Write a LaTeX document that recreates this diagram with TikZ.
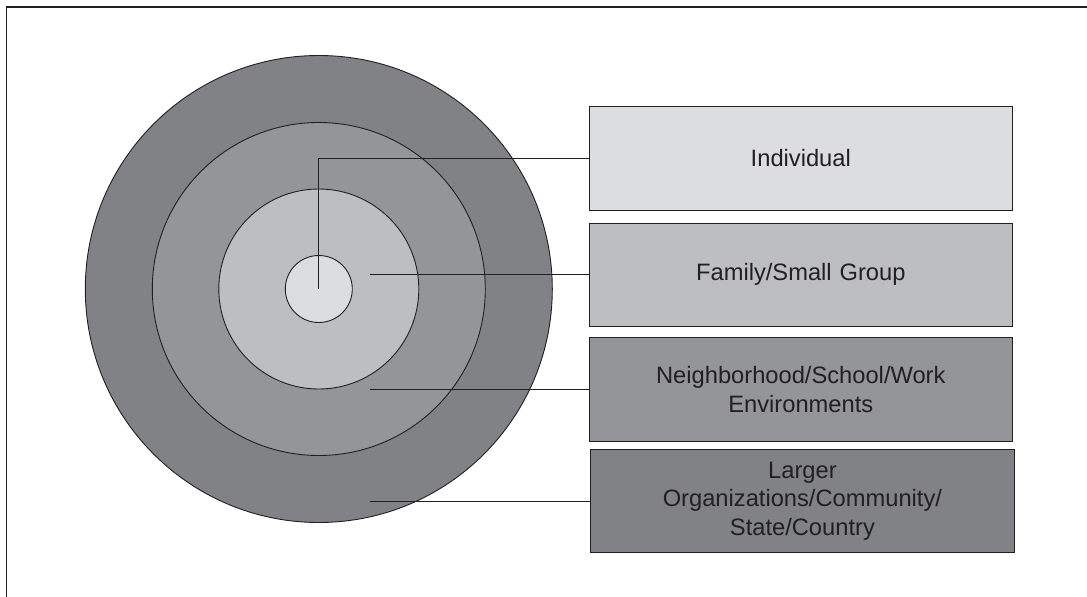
\documentclass[tikz,border=0pt]{standalone}
\usepackage{fontspec}
\setmainfont{Liberation Sans}
\definecolor{g60}{HTML}{808285}
\definecolor{g50}{HTML}{939598}
\definecolor{g30}{HTML}{BCBEC0}
\definecolor{g15}{HTML}{DCDDDE}
\definecolor{ink}{HTML}{231F20}
\tikzset{
  ring/.style={circle, draw=ink, line width=0.9pt, inner sep=0pt, outer sep=0pt},
  box/.style={rectangle, draw=ink, line width=1.1pt, inner sep=0pt, outer sep=0pt,
    minimum width=423pt, minimum height=103.3pt, text width=400pt, align=center,
    text=ink, font=\fontsize{23.7}{28.6}\selectfont},
  conn/.style={draw=ink, line width=1pt},
  frame/.style={draw=ink, line width=1.2pt}
}
\begin{document}
\begin{tikzpicture}[x=1pt,y=-1pt]
\useasboundingbox (0,0) rectangle (1087,597);
\coordinate (fb) at (6.5,597);
\coordinate (ftl) at (6.5,7);
\coordinate (fr) at (1087,7);
\draw[frame] (fb) -- (ftl) -- (fr);
\node[ring, fill=g60, minimum size=467pt] (r4) at (318.8,289) {};
\node[ring, fill=g50, minimum size=333pt] (r3) at (318.8,289) {};
\node[ring, fill=g30, minimum size=200pt] (r2) at (318.8,289) {};
\node[ring, fill=g15, minimum size=67pt] (r1) at (318.8,289) {};
\node[box, fill=g15] (b1) at (800.8,158.4) {Individual};
\node[box, fill=g30] (b2) at (800.8,274.7) {Family/Small Group};
\node[box, fill=g50] (b3) at (800.8,389.5) {Neighborhood/School/Work\\Environments};
\node[box, fill=g60, minimum width=424pt] (b4) at (802.4,501.1) {Larger\\Organizations/Community/\\State/Country};
\coordinate (c2) at (370,274.7);
\coordinate (c3) at (370,389.5);
\coordinate (c4) at (370,501.1);
\draw[conn] (r1.center) |- (b1.west);
\draw[conn] (c2) -- (b2.west);
\draw[conn] (c3) -- (b3.west);
\draw[conn] (c4) -- (b4.west);
\end{tikzpicture}
\end{document}
